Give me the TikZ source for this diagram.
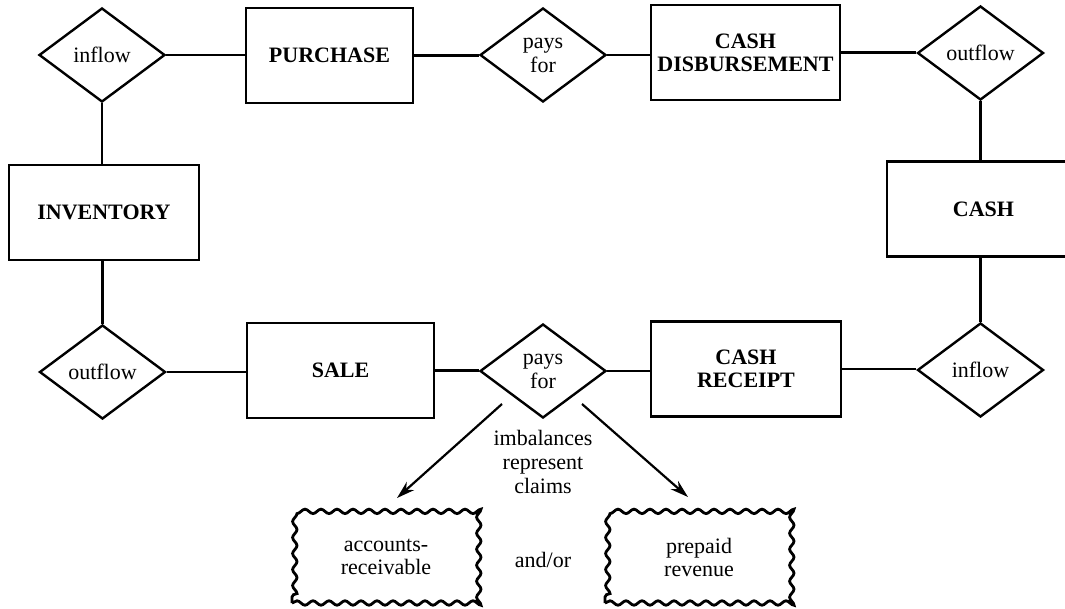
\documentclass[tikz,border=0pt]{standalone}
\usepackage{fontspec}
\setmainfont{Liberation Serif}
\usetikzlibrary{arrows.meta, shapes.geometric, decorations.pathmorphing, calc}
\tikzset{
  ent/.style={
    rectangle, draw, line width=1.2pt,
    font=\fontsize{11}{11.5}\selectfont\bfseries, align=center,
    inner sep=2pt, minimum width=95pt, minimum height=47.5pt,
  },
  rel/.style={
    diamond, draw, line width=1.2pt,
    font=\fontsize{11}{12}\selectfont, align=center,
    inner sep=0pt, minimum width=63pt, minimum height=47pt,
  },
  claim/.style={
    rectangle, draw, line width=1.4pt,
    decorate, decoration={snake, segment length=8pt, amplitude=1.1pt},
    font=\fontsize{11}{11.5}\selectfont, align=center,
    minimum width=94pt, minimum height=46pt,
  },
  lnk/.style={line width=1.1pt},
  arw/.style={
    -{Stealth[length=9pt,width=5.5pt]},
    line width=1.1pt,
  },
  note/.style={
    font=\fontsize{11}{11.8}\selectfont, align=center,
    inner sep=0pt,
  },
}
\begin{document}
\begin{tikzpicture}[x=0.5pt,y=-0.5pt]
    \useasboundingbox (0,0) rectangle (1065,609);
    \clip (0,0) rectangle (1065,609);
    \node[rel] (inA) at (102,55) {inflow};
    \node[ent, minimum width=83.5pt] (pur) at (329.5,55.5) {PURCHASE};
    \node[rel] (payA) at (543,55) {pays\\for};
    \node[ent, minimum width=94.5pt] (disb) at (745.5,52.5) {CASH\\DISBURSEMENT};
    \node[rel] (outA) at (980.5,53) {outflow};
    \node[ent, minimum width=96.5pt] (cash) at (983.5,209) {CASH};
    \node[ent] (inv) at (104,212.5) {INVENTORY};
    \node[rel] (outB) at (102.5,372) {outflow};
    \node[ent, minimum width=93.5pt] (sale) at (340.5,370.5) {SALE};
    \node[rel] (payB) at (543,371) {pays\\for};
    \node[ent] (rec) at (746,369) {CASH\\RECEIPT};
    \node[rel] (inB) at (980.5,370) {inflow};
    \node[note] (imb) at (543,462) {imbalances\\represent\\claims};
    \node[claim] (ar) at (386,557) {accounts-\\receivable};
    \node[note] (andor) at (543,560) {and/or};
    \node[claim] (pr) at (699,557) {prepaid\\revenue};
    \draw[lnk] (inA.east) -- (inA.east -| pur.west);
    \draw[lnk] (pur.east) -- (pur.east -| payA.west);
    \draw[lnk] (payA.east) -- (payA.east -| disb.west);
    \draw[lnk] (disb.east) -- (disb.east -| outA.west);
    \draw[lnk] (inA.south) -- (inA.south |- inv.north);
    \draw[lnk] (outB.north) -- (outB.north |- inv.south);
    \draw[lnk] (outA.south) -- (outA.south |- cash.north);
    \draw[lnk] (inB.north) -- (inB.north |- cash.south);
    \draw[lnk] (outB.east) -- (outB.east -| sale.west);
    \draw[lnk] (sale.east) -- (sale.east -| payB.west);
    \draw[lnk] (payB.east) -- (payB.east -| rec.west);
    \draw[lnk] (rec.east) -- (rec.east -| inB.west);
    \coordinate (arS) at (502,404);
    \coordinate (arT) at (397,498);
    \coordinate (prS) at (582,404);
    \coordinate (prT) at (688,497);
    \draw[arw] (arS) -- (arT);
    \draw[arw] (prS) -- (prT);
  \end{tikzpicture}
\end{document}
